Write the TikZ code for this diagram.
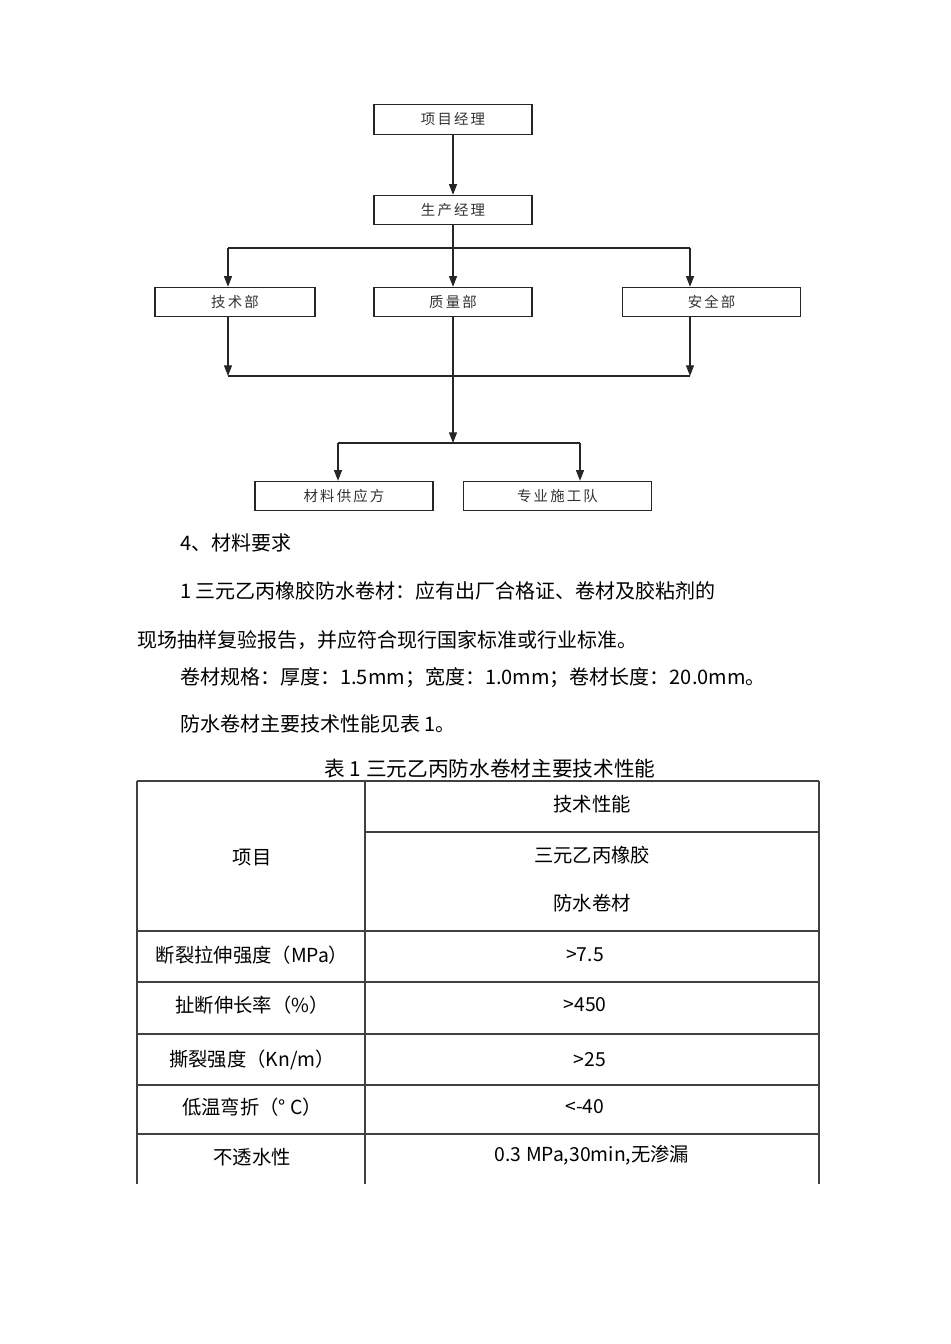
\documentclass[tikz,border=0pt]{standalone}
\usepackage{fontspec}
\newfontfamily\cjk{Noto Sans CJK SC}
\newfontfamily\cjkwide[LetterSpace=15]{Noto Sans CJK SC}
\usetikzlibrary{arrows.meta}
\begin{document}
\begin{tikzpicture}[x=0.75pt,y=-0.75pt,
  box/.style={draw=black!85,line width=0.8pt,minimum height=22pt,inner sep=0pt,font=\cjkwide\fontsize{10.8}{13}\selectfont,text=black!80},
  link/.style={draw=black!85,line width=0.8pt},
  arr/.style={link,-{Triangle[width=6pt,length=8pt]}},
  body/.style={anchor=west,inner sep=0pt,font=\cjk\fontsize{15}{18}\selectfont},
  cell/.style={inner sep=0pt,font=\cjk\fontsize{14.5}{18}\selectfont},
  grid/.style={draw=black!75,line width=0.8pt}]
\useasboundingbox (0,0) rectangle (950,1344);
\fill[white] (0,0) rectangle (950,1344);
% flowchart
\node[box,minimum width=118.5pt] (pm) at (453,119.5) {项目经理};
\node[box,minimum width=118.5pt] (sm) at (453,210) {生产经理};
\node[box,minimum width=120pt] (tech) at (235,302) {技术部};
\node[box,minimum width=118.5pt] (qual) at (453,302) {质量部};
\node[box,minimum width=134pt] (safe) at (711.5,302) {安全部};
\node[box,minimum width=133.5pt] (mat) at (344,496) {材料供应方};
\node[box,minimum width=141.5pt] (team) at (557.5,496) {专业施工队};
\coordinate (jl) at (228,248);
\coordinate (jr) at (690,248);
\coordinate (kl) at (228,376);
\coordinate (kr) at (690,376);
\coordinate (m) at (453,443);
\coordinate (ml) at (338,443);
\coordinate (mr) at (580,443);
\draw[arr] (pm.south) -- (sm.north);
\draw[arr] (sm.south) -- (qual.north);
\draw[link] (jl) -- (jr);
\draw[arr] (jl) -- (jl |- tech.north);
\draw[arr] (jr) -- (jr |- safe.north);
\draw[arr] (jl |- tech.south) -- (kl);
\draw[arr] (jr |- safe.south) -- (kr);
\draw[link] (kl) -- (kr);
\draw[arr] (qual.south) -- (m);
\draw[link] (ml) -- (mr);
\draw[arr] (ml) -- (ml |- mat.north);
\draw[arr] (mr) -- (mr |- team.north);
% text
\node[body] (t1) at (180,543) {4、材料要求};
\node[body] (t2) at (180,591) {1 三元乙丙橡胶防水卷材：应有出厂合格证、卷材及胶粘剂的};
\node[body] (t3) at (137,640) {现场抽样复验报告，并应符合现行国家标准或行业标准。};
\node[body] (t4) at (180,678) {卷材规格：厚度：1.5mm；宽度：1.0mm；卷材长度：20.0mm。};
\node[body] (t5) at (180,724) {防水卷材主要技术性能见表 1。};
\node[cell,font=\cjk\fontsize{15.5}{18}\selectfont] (cap) at (490,768.5) {表 1 三元乙丙防水卷材主要技术性能};
% table
\draw[grid] (137,781) -- (819,781);
\draw[grid] (365,832) -- (819,832);
\foreach \yy in {931,982,1034,1085,1134} \draw[grid] (137,\yy) -- (819,\yy);
\foreach \xx in {137,365,819} \draw[grid] (\xx,781) -- (\xx,1184);
\node[cell] (h1) at (592,804) {技术性能};
\node[cell] (h0) at (252,858) {项目};
\node[cell] (h2) at (592,855) {三元乙丙橡胶};
\node[cell] (h3) at (592,903) {防水卷材};
\node[cell] (r1a) at (252,955) {断裂拉伸强度（MPa）};
\node[cell] (r1b) at (585,955) {>7.5};
\node[cell] (r2a) at (252,1005) {扯断伸长率（\%）};
\node[cell] (r2b) at (585,1005) {>450};
\node[cell] (r3a) at (252,1060) {撕裂强度（Kn/m）};
\node[cell] (r3b) at (590,1060) {>25};
\node[cell] (r4a) at (252,1107) {低温弯折（° C）};
\node[cell] (r4b) at (585,1107) {<-40};
\node[cell] (r5a) at (252,1157) {不透水性};
\node[cell] (r5b) at (592,1155) {0.3 MPa,30min,无渗漏};
\end{tikzpicture}
\end{document}
